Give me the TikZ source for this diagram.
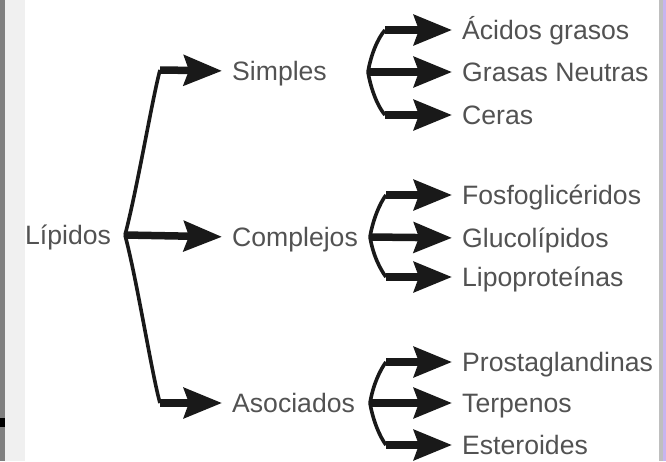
\documentclass[tikz,border=0pt]{standalone}
\usepackage{fontspec}
\setmainfont{Liberation Sans}
\usetikzlibrary{arrows.meta, positioning}
\definecolor{edgeviolet}{HTML}{C8B4F0}

\begin{document}
\begin{tikzpicture}[x=1pt, y=-1pt,
    lbl/.style={inner sep=0pt, anchor=west, text height=19pt, text depth=0pt,
        text=black!68, font=\fontsize{26.6}{30}\selectfont},
    brace/.style={draw=black!90, line width=3.6pt},
    arr/.style={draw=black!90, line width=7.5pt, shorten >=10pt,
        -{Stealth[length=38pt, width=30pt, inset=5pt]}}]
    \useasboundingbox (0,0) rectangle (666,461);

    % window edges
    \fill[black!50] (0,0) rectangle (5,461);
    \fill[black!6] (5,0) rectangle (25,461);
    \fill[black] (0,418) rectangle (5,427);
    \fill[black!25] (659,0) rectangle (663,461);
    \fill[edgeviolet] (663,0) rectangle (666,461);

    % labels
    \node[lbl] (lip) at (25,235) {Lípidos};
    \node[lbl] (sim) at (232,71) {Simples};
    \node[lbl] (com) at (232,237) {Complejos};
    \node[lbl] (aso) at (232,403) {Asociados};

    \node[lbl] (aci) at (462,30) {Ácidos grasos};
    \node[lbl] (gra) at (462,72) {Grasas Neutras};
    \node[lbl] (cer) at (462,115) {Ceras};
    \node[lbl] (fos) at (462,195) {Fosfoglicéridos};
    \node[lbl] (glu) at (462,238) {Glucolípidos};
    \node[lbl] (lipo) at (462,277) {Lipoproteínas};
    \node[lbl] (pro) at (462,362) {Prostaglandinas};
    \node[lbl] (ter) at (462,403) {Terpenos};
    \node[lbl] (est) at (462,445) {Esteroides};

    % first brace
    \coordinate (lipB) at (125,235);
    \coordinate (simC) at (160,70);
    \coordinate (asoC) at (160,403);
    \draw[brace] (lipB) .. controls (137,190) and (152,100) .. (simC);
    \draw[brace] (lipB) .. controls (137,280) and (152,375) .. (asoC);
    \draw[arr] (simC) -- (sim.west);
    \draw[arr] (lipB) -- (com.west);
    \draw[arr] (asoC) -- (aso.west);

    % Simples
    \coordinate (simB) at (368,72);
    \coordinate (aciC) at (385,30);
    \coordinate (cerC) at (385,115);
    \draw[brace] (simB) .. controls (371,54) and (378,38) .. (aciC);
    \draw[brace] (simB) .. controls (371,90) and (378,107) .. (cerC);
    \draw[arr] (aciC) -- (aci.west);
    \draw[arr] (simB) -- (gra.west);
    \draw[arr] (cerC) -- (cer.west);

    % Complejos
    \coordinate (comB) at (370,237);
    \coordinate (fosC) at (386,195);
    \coordinate (lipoC) at (386,277);
    \draw[brace] (comB) .. controls (373,219) and (380,203) .. (fosC);
    \draw[brace] (comB) .. controls (373,255) and (380,269) .. (lipoC);
    \draw[arr] (fosC) -- (fos.west);
    \draw[arr] (comB) -- (glu.west);
    \draw[arr] (lipoC) -- (lipo.west);

    % Asociados
    \coordinate (asoB) at (370,403);
    \coordinate (proC) at (386,362);
    \coordinate (estC) at (386,445);
    \draw[brace] (asoB) .. controls (373,385) and (380,370) .. (proC);
    \draw[brace] (asoB) .. controls (373,421) and (380,437) .. (estC);
    \draw[arr] (proC) -- (pro.west);
    \draw[arr] (asoB) -- (ter.west);
    \draw[arr] (estC) -- (est.west);

    %\draw[help lines, step=50] (0,0) grid (666,461);
\end{tikzpicture}
\end{document}
